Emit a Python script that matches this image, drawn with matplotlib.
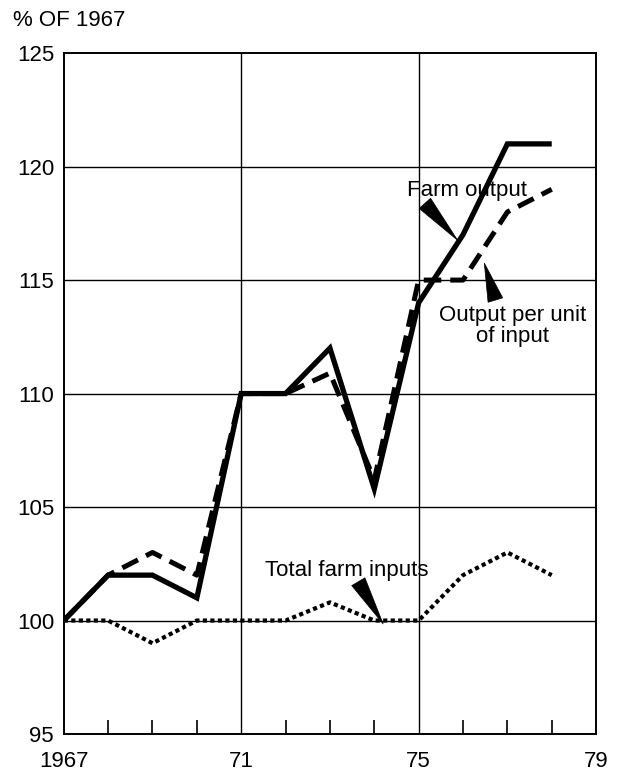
import matplotlib
matplotlib.use("Agg")
import matplotlib.pyplot as plt
from matplotlib.ticker import MultipleLocator

plt.rcParams['font.family'] = ['Liberation Sans', 'DejaVu Sans']

years = [1967, 1968, 1969, 1970, 1971, 1972, 1973, 1974, 1975, 1976, 1977, 1978]
farm_output = [100, 102, 102, 101, 110, 110, 112, 105.8, 114, 117, 121, 121]
output_per_unit = [100, 102, 103, 102, 110, 110, 110.9, 106.2, 115, 115, 118, 119]
total_inputs = [100, 100, 99, 100, 100, 100, 100.8, 100, 100, 102, 103, 102]
xticks = [1967, 1971, 1975, 1979]
xticklabels = ["1967", "71", "75", "79"]
yticks = [95, 100, 105, 110, 115, 120, 125]

FS = 16

fig = plt.figure(figsize=(6.19, 7.72), dpi=100)
ax = fig.add_axes([0.103, 0.0492, 0.860, 0.882])

ax.set_xlim(1967, 1979)
ax.set_ylim(95, 125)

for y in yticks[1:-1]:
    ax.axhline(y, color='black', lw=1.0, zorder=1)
for x in xticks[1:-1]:
    ax.axvline(x, color='black', lw=1.0, zorder=1)

ax.plot(years, farm_output, color='black', lw=3.8, solid_joinstyle='miter',
        solid_capstyle='butt', zorder=4)
ax.plot(years, output_per_unit, color='black', lw=3.6, dashes=(3.5, 1.8),
        dash_capstyle='butt', zorder=3)
ax.plot(years, total_inputs, color='black', lw=3.0, dashes=(1.0, 0.8),
        dash_capstyle='butt', zorder=3)

ax.set_xticks(xticks)
ax.set_xticklabels(xticklabels)
ax.set_yticks(yticks)
ax.xaxis.set_minor_locator(MultipleLocator(1))
ax.tick_params(axis='x', which='major', length=0, pad=12, labelsize=FS)
ax.tick_params(axis='x', which='minor', direction='in', length=10, width=1.2)
ax.tick_params(axis='y', which='major', length=0, pad=7, labelsize=FS)
for s in ax.spines.values():
    s.set_linewidth(1.4)

fig.text(0.021, 0.974, "% OF 1967", fontsize=FS, ha='left', va='center')

arrow = dict(arrowstyle='wedge,tail_width=0.55,shrink_factor=0.5',
             fc='black', ec='black', lw=0.5, shrinkA=0, shrinkB=0,
             mutation_scale=20)

ax.text(1976.08, 118.95, "Farm output", fontsize=FS, ha='center', va='center')
ax.annotate("", xy=(1975.88, 116.75), xytext=(1975.14, 118.38), arrowprops=arrow)

ax.text(1977.11, 112.98, "Output per unit\nof input", fontsize=FS,
        ha='center', va='center', linespacing=1.05)
ax.annotate("", xy=(1976.48, 115.75), xytext=(1976.73, 114.12), arrowprops=arrow)

ax.text(1973.39, 102.19, "Total farm inputs", fontsize=FS, ha='center', va='center')
ax.annotate("", xy=(1974.2, 99.85), xytext=(1973.64, 101.71), arrowprops=arrow)

fig.savefig("out.png", dpi=100)
